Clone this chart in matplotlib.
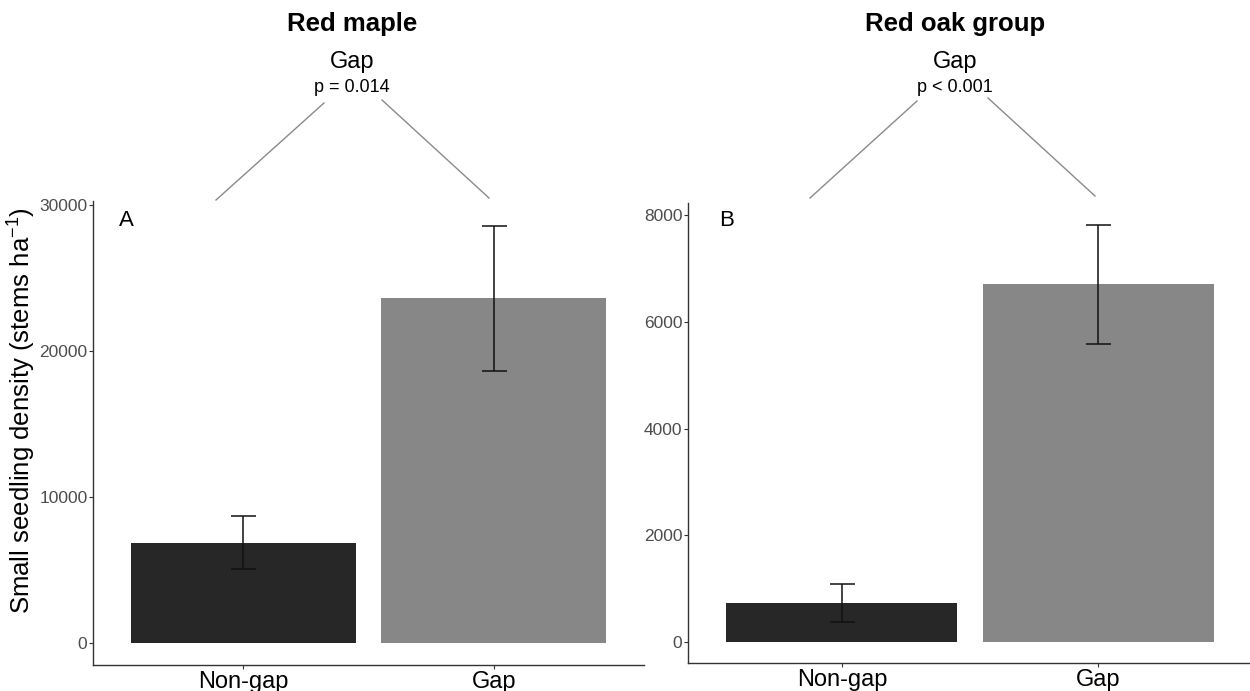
import matplotlib
matplotlib.use("Agg")
import matplotlib.pyplot as plt
from matplotlib.lines import Line2D

plt.rcParams['font.family'] = ['Liberation Sans', 'DejaVu Sans']
plt.rcParams['mathtext.fontset'] = 'custom'
plt.rcParams['mathtext.rm'] = 'Liberation Sans'
plt.rcParams['mathtext.it'] = 'Liberation Sans:italic'
plt.rcParams['mathtext.bf'] = 'Liberation Sans:bold'

# ---- data ----
categories = ["Non-gap", "Gap"]
maple_mean = [6900, 23600]
maple_se = [1820, 4950]
oak_mean = [735, 6705]
oak_se = [362, 1120]
maple_ticks = [0, 10000, 20000, 30000]
oak_ticks = [0, 2000, 4000, 6000, 8000]
panel_titles = ["Red maple", "Red oak group"]
panel_letters = ["A", "B"]
effect_label = "Gap"
p_labels = ["p = 0.014", "p < 0.001"]
ylabel = r"Small seedling density (stems ha$^{\mathregular{-1}}$)"

bar_colors = ["#272727", "#878787"]
W, H = 1250, 691
fig = plt.figure(figsize=(W / 100, H / 100), dpi=100)

def fx(px):
    return px / W

def fy(py):
    return 1 - py / H

# axes rects in pixels: (left, top, right, bottom)
rects = [(93, 201, 644, 665), (688, 203, 1252, 663)]
ylims = [(-1470, 30250), (-393, 8230)]
means = [maple_mean, oak_mean]
ses = [maple_se, oak_se]
ticks = [maple_ticks, oak_ticks]

axes = []
for i in range(2):
    l, t, r, b = rects[i]
    ax = fig.add_axes([fx(l), fy(b), fx(r) - fx(l), fy(t) - fy(b)])
    axes.append(ax)
    xs = list(range(1, len(categories) + 1))
    ax.bar(xs, means[i], width=0.9, color=bar_colors, edgecolor='none', zorder=2)
    ax.errorbar(xs, means[i], yerr=ses[i], fmt='none', ecolor='#111111',
                elinewidth=1.1, capsize=9, capthick=1.1, zorder=3)
    ax.set_xlim(0.4, 2.6)
    ax.set_ylim(*ylims[i])
    ax.set_xticks(xs)
    ax.set_xticklabels(categories, fontsize=17, color='black')
    ax.set_yticks(ticks[i])
    ax.set_yticklabels([str(v) for v in ticks[i]], fontsize=12.5, color='#4d4d4d')
    for s in ['top', 'right']:
        ax.spines[s].set_visible(False)
    for s in ['left', 'bottom']:
        ax.spines[s].set_color('#333333')
        ax.spines[s].set_linewidth(1.0)
    ax.tick_params(axis='both', length=3, width=0.8, color='#333333')
    ax.tick_params(axis='y', pad=1)
    ax.tick_params(axis='x', pad=1)
    ax.patch.set_alpha(0)

# panel letters
fig.text(fx(126), fy(220), panel_letters[0], fontsize=16, ha='center', va='center')
fig.text(fx(727), fy(220), panel_letters[1], fontsize=16, ha='center', va='center')

# titles and annotations
centers = [352, 955]
for i in range(2):
    cx = centers[i]
    fig.text(fx(cx), fy(24), panel_titles[i], fontsize=18.5, fontweight='bold',
             ha='center', va='center')
    fig.text(fx(cx), fy(62), effect_label, fontsize=17, ha='center', va='center')
    fig.text(fx(cx), fy(88), p_labels[i], fontsize=13, ha='center', va='center')

lines_px = [((216, 200), (324, 103)), ((382, 100), (489, 198)),
            ((810, 198), (917, 101)), ((988, 98), (1095, 196))]
for (x0, y0), (x1, y1) in lines_px:
    fig.add_artist(Line2D([fx(x0), fx(x1)], [fy(y0), fy(y1)], color='#8a8a8a',
                          lw=1.0, transform=fig.transFigure))

fig.text(fx(22), fy(411), ylabel, fontsize=18.5, rotation=90, ha='center', va='center',
         color='black')

fig.savefig("out.png", dpi=100)
